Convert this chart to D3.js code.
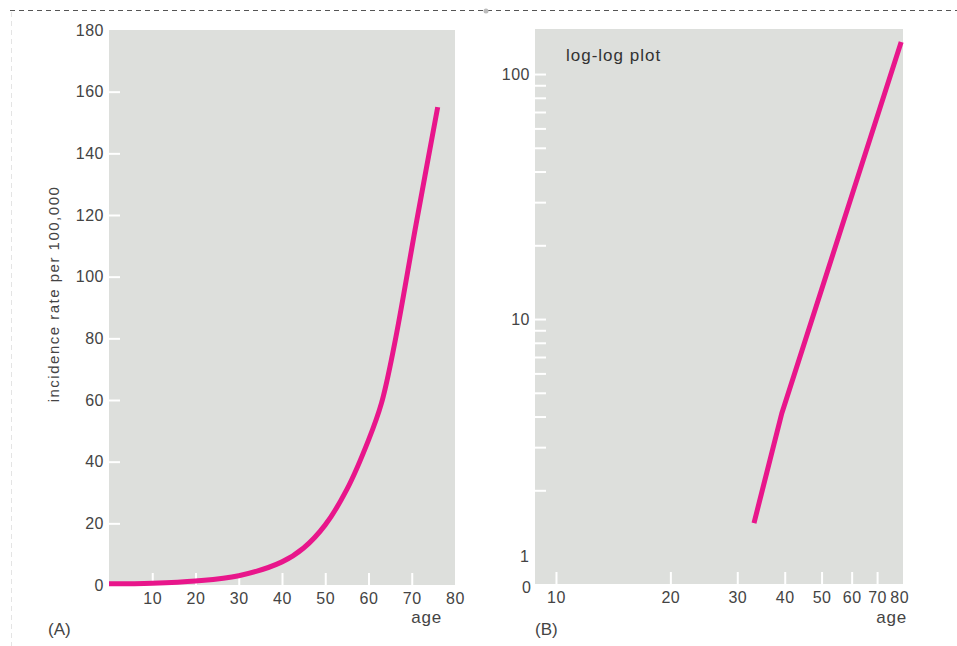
<!DOCTYPE html>
<html>
<head>
<meta charset="utf-8">
<script src="https://cdn.jsdelivr.net/npm/d3@7"></script>
<style>
  body { margin: 0; background: #fff; }
  svg text { font-family: "Liberation Sans", Arial, Helvetica, sans-serif; fill: #444; }
  .tick line { stroke: #fff; stroke-width: 2px; }
  .domain { display: none; }
</style>
</head>
<body>
<div id="chart"></div>
<script>
// (A) linear plot: age vs incidence per 100,000
var lin_age = [0, 10, 20, 30, 40, 45, 50, 55, 60, 63, 66, 71, 76];
var lin_rate = [0.4, 0.6, 1.3, 3.0, 7.5, 12, 19.5, 31, 47, 59, 78, 117, 155];
var lin_y_ticks = [0, 20, 40, 60, 80, 100, 120, 140, 160, 180];
var lin_x_ticks = [10, 20, 30, 40, 50, 60, 70, 80];

// (B) log-log plot
var log_age = [33.2, 39.3, 81];
var log_rate = [1.47, 4.13, 135];
var log_y_major = [10, 100];
var log_y_minor = [2, 3, 4, 5, 6, 7, 8, 9, 20, 30, 40, 50, 60, 70, 80, 90];
var log_x_ticks = [10, 20, 30, 40, 50, 60, 70, 80];

var width = 957, height = 646,
  pink = "#e8168b",
  panel_fill = "#dddfdc";

var svg = d3.select("#chart").append("svg")
    .attr("width", width)
    .attr("height", height);

// page frame: dashed rule on top, faint one on left
svg.append("line")
    .attr("x1", 10).attr("x2", width)
    .attr("y1", 10.5).attr("y2", 10.5)
    .style("stroke", "#555")
    .style("stroke-width", 1)
    .style("stroke-dasharray", "5,4");

svg.append("line")
    .attr("x1", 11.5).attr("x2", 11.5)
    .attr("y1", 12).attr("y2", height)
    .style("stroke", "#e4e4e4")
    .style("stroke-width", 1)
    .style("stroke-dasharray", "5,4");

svg.append("circle")
    .attr("cx", 486).attr("cy", 11).attr("r", 2.5)
    .style("fill", "#bbb");

function styleTicks(g){
  g.selectAll(".tick text")
      .style("font-size", "16px")
      .style("letter-spacing", "0.5px")
      .style("fill", "#444");
}

// ---------- panel A ----------
var a = { left: 109, right: 455, top: 30, bottom: 585 };

var xA = d3.scaleLinear().domain([0, 80]).range([a.left, a.right]);
var yA = d3.scaleLinear().domain([0, 180]).range([a.bottom, a.top]);

var gA = svg.append("g");

gA.append("rect")
    .attr("x", a.left).attr("y", a.top)
    .attr("width", a.right - a.left)
    .attr("height", a.bottom - a.top)
    .style("fill", panel_fill);

var yAxisA = gA.append("g")
    .attr("transform", "translate(" + a.left + ",0)")
    .call(d3.axisLeft(yA).tickValues(lin_y_ticks).tickSize(-11).tickPadding(5));

var xAxisA = gA.append("g")
    .attr("transform", "translate(0," + a.bottom + ")")
    .call(d3.axisBottom(xA).tickValues(lin_x_ticks).tickSize(-12).tickPadding(8));

// no tick marks on the frame edges
yAxisA.selectAll(".tick").filter(function(d){ return d == 0 || d == 180; })
    .select("line").remove();
xAxisA.selectAll(".tick").filter(function(d){ return d == 80; })
    .select("line").remove();

styleTicks(gA);

var lineA = d3.line()
    .x(function(d){ return xA(d[0]); })
    .y(function(d){ return yA(d[1]); })
    .curve(d3.curveCatmullRom.alpha(0.5));

gA.append("path")
    .datum(d3.zip(lin_age, lin_rate))
    .attr("d", lineA)
    .style("fill", "none")
    .style("stroke", pink)
    .style("stroke-width", 5);

gA.append("text")
    .attr("transform", "translate(59,294) rotate(-90)")
    .attr("text-anchor", "middle")
    .style("font-size", "15px")
    .style("letter-spacing", "1.5px")
    .text("incidence rate per 100,000");

gA.append("text")
    .attr("x", a.right - 13).attr("y", 623)
    .attr("text-anchor", "end")
    .style("font-size", "17px")
    .style("letter-spacing", "0.8px")
    .text("age");

gA.append("text")
    .attr("x", 48).attr("y", 635)
    .style("font-size", "17px")
    .text("(A)");

// ---------- panel B ----------
var b = { left: 535, right: 903, top: 29, bottom: 584 };

var xB = d3.scaleLog().domain([8.806, 81.9]).range([b.left, b.right]);
var yB = d3.scaleLog().domain([0.829, 152.7]).range([b.bottom, b.top]);

var gB = svg.append("g");

gB.append("rect")
    .attr("x", b.left).attr("y", b.top)
    .attr("width", b.right - b.left)
    .attr("height", b.bottom - b.top)
    .style("fill", panel_fill);

gB.append("g")
    .attr("transform", "translate(" + b.left + ",0)")
    .call(d3.axisLeft(yB).tickValues(log_y_minor).tickSize(-11).tickFormat(""));

gB.append("g")
    .attr("transform", "translate(" + b.left + ",0)")
    .call(d3.axisLeft(yB).tickValues(log_y_major).tickSize(-11).tickPadding(5).tickFormat(d3.format("d")));

var xAxisB = gB.append("g")
    .attr("transform", "translate(0," + b.bottom + ")")
    .call(d3.axisBottom(xB).tickValues(log_x_ticks).tickSize(-12).tickPadding(8).tickFormat(d3.format("d")));

xAxisB.selectAll(".tick").filter(function(d){ return d == 80; })
    .select("line").remove();

styleTicks(gB);

// unmarked "1" and "0" labels at the foot of the log axis
gB.append("text")
    .attr("x", b.left - 6).attr("y", yB(1) - 7)
    .attr("dy", "0.32em")
    .attr("text-anchor", "end")
    .style("font-size", "16px")
    .text("1");

gB.append("text")
    .attr("x", b.left - 4).attr("y", b.bottom + 4)
    .attr("dy", "0.32em")
    .attr("text-anchor", "end")
    .style("font-size", "16px")
    .text("0");

var lineB = d3.line()
    .x(function(d){ return xB(d[0]); })
    .y(function(d){ return yB(d[1]); });

gB.append("path")
    .datum(d3.zip(log_age, log_rate))
    .attr("d", lineB)
    .style("fill", "none")
    .style("stroke", pink)
    .style("stroke-width", 5);

gB.append("text")
    .attr("x", 566).attr("y", 61)
    .style("font-size", "17px")
    .style("letter-spacing", "1px")
    .style("fill", "#333")
    .text("log-log plot");

gB.append("text")
    .attr("x", b.right + 4).attr("y", 623)
    .attr("text-anchor", "end")
    .style("font-size", "17px")
    .style("letter-spacing", "0.8px")
    .text("age");

gB.append("text")
    .attr("x", 535).attr("y", 635)
    .style("font-size", "17px")
    .text("(B)");
</script>
</body>
</html>
